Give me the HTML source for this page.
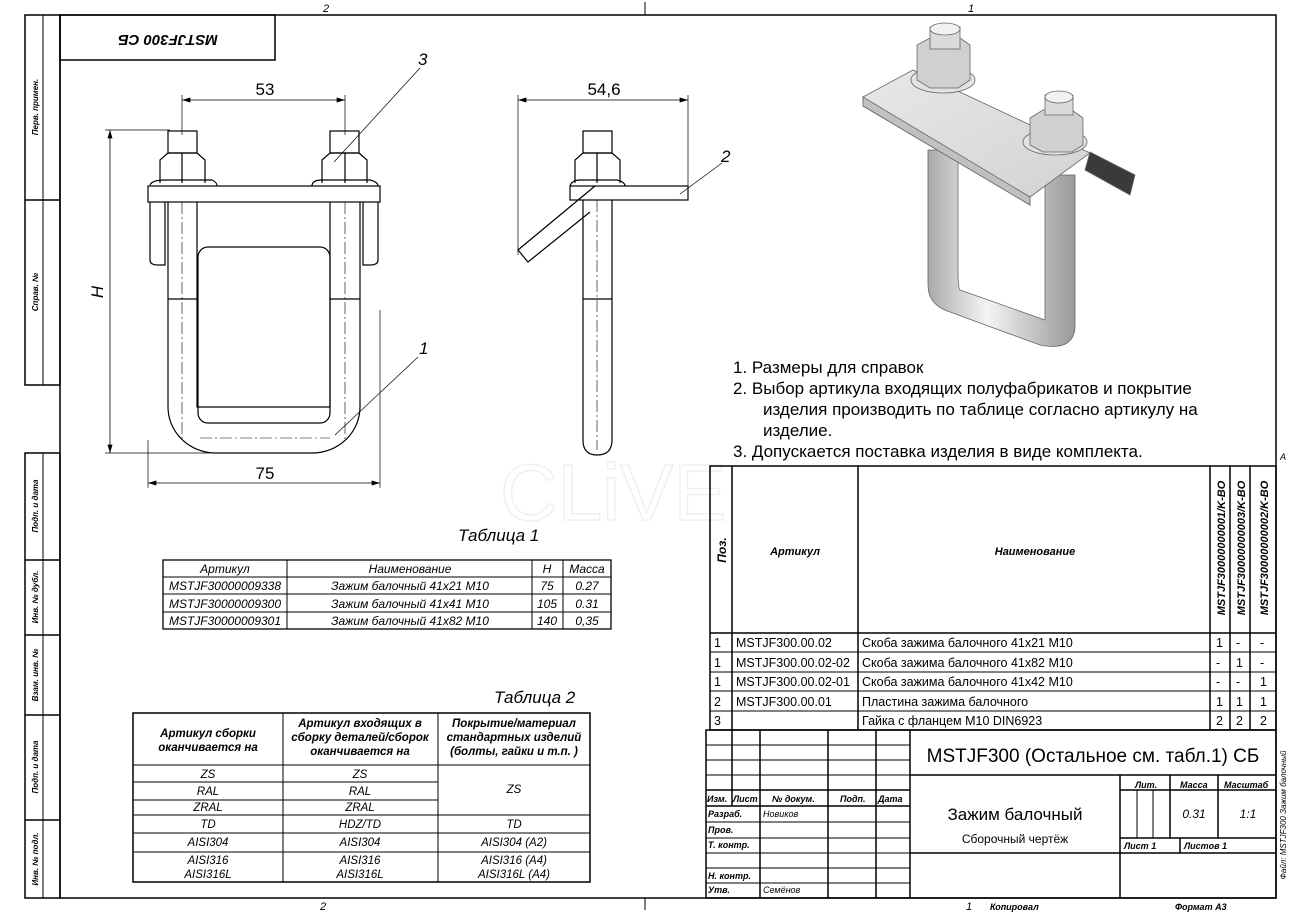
<!DOCTYPE html>
<html><head><meta charset="utf-8"><style>
html,body{margin:0;padding:0;background:#fff}
svg{display:block}
text{font-family:"Liberation Sans","DejaVu Sans",sans-serif;font-style:italic;fill:#000}
.b{font-weight:bold}
.n,.n text{font-style:normal}
</style></head><body>
<svg width="1291" height="912" viewBox="0 0 1291 912" xmlns="http://www.w3.org/2000/svg">
<defs>
<marker id="ar" viewBox="0 0 10 6" refX="10" refY="3" markerWidth="12" markerHeight="5" orient="auto-start-reverse" markerUnits="userSpaceOnUse"><path d="M0,0 L10,3 L0,6 z" fill="#000"/></marker>
<linearGradient id="rod" x1="0" x2="1"><stop offset="0" stop-color="#aaa"/><stop offset=".4" stop-color="#f4f4f4"/><stop offset="1" stop-color="#999"/></linearGradient>
<linearGradient id="pl" x1="0" y1="0" x2="1" y2="1"><stop offset="0" stop-color="#e8e8e8"/><stop offset="1" stop-color="#d2d2d2"/></linearGradient>
</defs>
<!-- watermark -->
<text x="500" y="520" font-size="80" class="n" style="fill:none;stroke:#f0f0f0;stroke-width:1.5">CLiVE</text>
<!-- frame -->
<g stroke="#000" fill="none">
<line x1="25" y1="15" x2="1276" y2="15" stroke-width="1"/>
<line x1="645" y1="2" x2="645" y2="15"/>
<line x1="645" y1="898" x2="645" y2="910"/>
<line x1="25" y1="898" x2="1276" y2="898"/>
<rect x="60" y="15" width="1216" height="883" stroke-width="1.5"/>
<rect x="25" y="15" width="35" height="370" stroke-width="1.5"/>
<line x1="25" y1="200" x2="60" y2="200" stroke-width="1.5"/>
<rect x="25" y="453" width="35" height="445" stroke-width="1.5"/>
<line x1="25" y1="560" x2="60" y2="560" stroke-width="1.5"/>
<line x1="25" y1="635" x2="60" y2="635" stroke-width="1.5"/>
<line x1="25" y1="715" x2="60" y2="715" stroke-width="1.5"/>
<line x1="25" y1="820" x2="60" y2="820" stroke-width="1.5"/>
<line x1="43" y1="15" x2="43" y2="385" stroke-width="1"/>
<line x1="43" y1="453" x2="43" y2="898" stroke-width="1"/>
<rect x="60" y="15" width="215" height="45" stroke-width="1.5"/>
</g>
<text x="323" y="12" font-size="11">2</text>
<text x="968" y="12" font-size="11">1</text>
<text x="320" y="910" font-size="11">2</text>
<text x="966" y="910" font-size="11">1</text>
<text x="1280" y="460" font-size="9">A</text>
<text transform="translate(168,30) rotate(180)" font-size="15" class="b" text-anchor="middle" dy="-5">MSTJF300 СБ</text>
<g font-size="8" class="b">
<text transform="translate(38,107) rotate(-90)" text-anchor="middle">Перв. примен.</text>
<text transform="translate(38,292) rotate(-90)" text-anchor="middle">Справ. №</text>
<text transform="translate(38,506) rotate(-90)" text-anchor="middle">Подп. и дата</text>
<text transform="translate(38,597) rotate(-90)" text-anchor="middle">Инв. № дубл.</text>
<text transform="translate(38,675) rotate(-90)" text-anchor="middle">Взам. инв. №</text>
<text transform="translate(38,767) rotate(-90)" text-anchor="middle">Подп. и дата</text>
<text transform="translate(38,859) rotate(-90)" text-anchor="middle">Инв. № подл.</text>
<text transform="translate(1286,815) rotate(-90)" text-anchor="middle" font-weight="normal">Файл: MSTJF300 Зажим балочный</text>
</g>
<text x="990" y="910" font-size="9" class="b">Копировал</text>
<text x="1175" y="910" font-size="9" class="b">Формат А3</text>

<!-- front view -->
<g stroke="#000" fill="none" stroke-width="1.2">
<line x1="182" y1="95" x2="182" y2="135" stroke-width=".7"/>
<line x1="345" y1="95" x2="345" y2="135" stroke-width=".7"/>
<line x1="182" y1="100" x2="345" y2="100" stroke-width=".8" marker-start="url(#ar)" marker-end="url(#ar)"/>
<line x1="148" y1="440" x2="148" y2="488" stroke-width=".7"/>
<line x1="380" y1="310" x2="380" y2="488" stroke-width=".7"/>
<line x1="148" y1="483" x2="380" y2="483" stroke-width=".8" marker-start="url(#ar)" marker-end="url(#ar)"/>
<line x1="105" y1="130" x2="170" y2="130" stroke-width=".7"/>
<line x1="105" y1="453" x2="210" y2="453" stroke-width=".7"/>
<line x1="110" y1="130" x2="110" y2="453" stroke-width=".8" marker-start="url(#ar)" marker-end="url(#ar)"/>
<rect x="168" y="131" width="29" height="22"/>
<rect x="330" y="131" width="29" height="22"/>
<path d="M160,183 L160,160 L168,153 L197,153 L205,160 L205,183"/>
<line x1="182" y1="153" x2="182" y2="183"/>
<path d="M322,183 L322,160 L330,153 L359,153 L367,160 L367,183"/>
<line x1="345" y1="153" x2="345" y2="183"/>
<path d="M150,185 Q152,180 165,180 L212,180 Q217,182 217,186"/>
<path d="M312,186 Q312,180 322,180 L370,180 Q378,182 378,186"/>
<rect x="148" y="186" width="232" height="16"/>
<path d="M150,202 L150,260 Q150,265 158,265 L165,265 L165,202"/>
<path d="M378,202 L378,260 Q378,265 370,265 L363,265 L363,202"/>
<rect x="198" y="247" width="132" height="176" rx="10"/>
<path d="M168,202 L168,407 A48,46 0 0 0 216,453 L312,453 A48,46 0 0 0 360,407 L360,202"/>
<path d="M197,202 L197,407 L330,407 L330,202"/>
<line x1="168" y1="299" x2="197" y2="299"/>
<line x1="330" y1="299" x2="360" y2="299"/>
<line x1="182" y1="202" x2="182" y2="440" stroke-width=".6" stroke-dasharray="12,3,2,3"/>
<line x1="345" y1="202" x2="345" y2="440" stroke-width=".6" stroke-dasharray="12,3,2,3"/>
<line x1="200" y1="438" x2="330" y2="438" stroke-width=".6" stroke-dasharray="12,3,2,3"/>
<line x1="334" y1="162" x2="420" y2="68" stroke-width=".7"/>
<line x1="335" y1="435" x2="418" y2="357" stroke-width=".7"/>
</g>
<text x="265" y="95" font-size="17" text-anchor="middle" class="n">53</text>
<text x="265" y="479" font-size="17" text-anchor="middle" class="n">75</text>
<text transform="translate(103,292) rotate(-90)" font-size="17" text-anchor="middle">H</text>
<text x="418" y="65" font-size="17">3</text>
<text x="419" y="354" font-size="17">1</text>

<!-- side view -->
<g stroke="#000" fill="none" stroke-width="1.2">
<line x1="518" y1="95" x2="518" y2="255" stroke-width=".7"/>
<line x1="688" y1="95" x2="688" y2="190" stroke-width=".7"/>
<line x1="518" y1="100" x2="688" y2="100" stroke-width=".8" marker-start="url(#ar)" marker-end="url(#ar)"/>
<rect x="583" y="131" width="29" height="22"/>
<path d="M575,183 L575,160 L583,153 L612,153 L620,160 L620,183"/>
<line x1="597" y1="153" x2="597" y2="183"/>
<path d="M570,186 Q572,180 580,180 L617,180 Q625,182 625,186"/>
<rect x="570" y="186" width="118" height="14"/>
<path d="M595,186 L518,250 L528,262 L590,212"/>
<path d="M583,200 L583,440 Q583,455 597,455 Q612,455 612,440 L612,200"/>
<line x1="583" y1="299" x2="612" y2="299"/>
<line x1="597" y1="200" x2="597" y2="450" stroke-width=".6" stroke-dasharray="12,3,2,3"/>
<line x1="680" y1="194" x2="722" y2="163" stroke-width=".7"/>
</g>
<text x="604" y="95" font-size="17" text-anchor="middle" class="n">54,6</text>
<text x="721" y="162" font-size="17">2</text>

<!-- 3D view -->
<g stroke="#666" stroke-width=".8">
<path d="M1090,152 L1135,175 L1130,195 L1085,170 Z" fill="#3a3a3a"/>
<path d="M928,150 L928,285 Q928,305 950,312 L1040,345 Q1075,352 1075,325 L1075,175 L1045,175 L1045,320 L960,290 Q958,288 958,270 L958,150 Z" fill="url(#rod)"/>
<path d="M863,97 L913,70 L1090,153 L1030,197 L1030,205 L863,106 Z" fill="url(#pl)"/>
<path d="M863,97 L1030,197 L1030,205 L863,106 Z" fill="#c0c0c0"/>
<ellipse cx="943" cy="80" rx="32" ry="13" fill="#e2e2e2"/>
<path d="M917,45 L930,38 L960,38 L970,45 L970,80 L958,88 L930,88 L917,80 Z" fill="#d0d0d0"/>
<rect x="930" y="27" width="30" height="22" fill="#dadada"/>
<ellipse cx="945" cy="29" rx="15" ry="6" fill="#f2f2f2"/>
<ellipse cx="1055" cy="142" rx="32" ry="13" fill="#e2e2e2"/>
<path d="M1030,118 L1043,110 L1072,110 L1083,118 L1083,145 L1072,152 L1043,152 L1030,145 Z" fill="#d0d0d0"/>
<rect x="1045" y="95" width="28" height="20" fill="#dadada"/>
<ellipse cx="1059" cy="97" rx="14" ry="6" fill="#f2f2f2"/>
</g>

<!-- notes -->
<g font-size="17" class="n">
<text x="733" y="373">1.  Размеры для справок</text>
<text x="733" y="394">2.  Выбор артикула входящих полуфабрикатов и покрытие</text>
<text x="763" y="415">изделия производить по таблице согласно артикулу на</text>
<text x="763" y="436">изделие.</text>
<text x="733" y="457">3.  Допускается поставка изделия в виде комплекта.</text>
</g>

<!-- spec table -->
<g stroke="#000" fill="none" stroke-width="1.5">
<rect x="710" y="466" width="566" height="264"/>
<line x1="732" y1="466" x2="732" y2="730"/>
<line x1="858" y1="466" x2="858" y2="730"/>
<line x1="1210" y1="466" x2="1210" y2="730"/>
<line x1="1230" y1="466" x2="1230" y2="730"/>
<line x1="1250" y1="466" x2="1250" y2="730"/>
<line x1="710" y1="633" x2="1276" y2="633"/>
<g stroke-width="1"><line x1="710" y1="652" x2="1276" y2="652"/><line x1="710" y1="672" x2="1276" y2="672"/><line x1="710" y1="691" x2="1276" y2="691"/><line x1="710" y1="711" x2="1276" y2="711"/></g>
</g>
<g font-size="12">
<text transform="translate(726,550) rotate(-90)" class="b" text-anchor="middle">Поз.</text>
<text x="795" y="555" class="b" text-anchor="middle" font-size="11">Артикул</text>
<text x="1035" y="555" class="b" text-anchor="middle" font-size="11">Наименование</text>
<text transform="translate(1225,548) rotate(-90)" class="b" text-anchor="middle" font-size="11">MSTJF30000000001/K-BO</text>
<text transform="translate(1245,548) rotate(-90)" class="b" text-anchor="middle" font-size="11">MSTJF30000000003/K-BO</text>
<text transform="translate(1268,548) rotate(-90)" class="b" text-anchor="middle" font-size="11">MSTJF30000000002/K-BO</text>
</g>
<g font-size="12.5" class="n">
<text x="714" y="647">1</text><text x="736" y="647">MSTJF300.00.02</text><text x="862" y="647">Скоба зажима балочного 41x21 M10</text><text x="1216" y="647">1</text><text x="1236" y="647">-</text><text x="1260" y="647">-</text>
<text x="714" y="667">1</text><text x="736" y="667">MSTJF300.00.02-02</text><text x="862" y="667">Скоба зажима балочного 41x82 M10</text><text x="1216" y="667">-</text><text x="1236" y="667">1</text><text x="1260" y="667">-</text>
<text x="714" y="686">1</text><text x="736" y="686">MSTJF300.00.02-01</text><text x="862" y="686">Скоба зажима балочного 41x42 M10</text><text x="1216" y="686">-</text><text x="1236" y="686">-</text><text x="1260" y="686">1</text>
<text x="714" y="706">2</text><text x="736" y="706">MSTJF300.00.01</text><text x="862" y="706">Пластина зажима балочного</text><text x="1216" y="706">1</text><text x="1236" y="706">1</text><text x="1260" y="706">1</text>
<text x="714" y="725">3</text><text x="862" y="725">Гайка с фланцем M10 DIN6923</text><text x="1216" y="725">2</text><text x="1236" y="725">2</text><text x="1260" y="725">2</text>
</g>

<!-- title block -->
<g stroke="#000" fill="none" stroke-width="1.5">
<rect x="706" y="730" width="570" height="168"/>
<line x1="910" y1="730" x2="910" y2="898"/>
<line x1="910" y1="775" x2="1276" y2="775"/>
<line x1="910" y1="853" x2="1276" y2="853"/>
<line x1="1120" y1="775" x2="1120" y2="898"/>
<line x1="1120" y1="790" x2="1276" y2="790"/>
<line x1="1120" y1="838" x2="1276" y2="838"/>
<line x1="1170" y1="775" x2="1170" y2="838"/>
<line x1="1218" y1="775" x2="1218" y2="838"/>
<line x1="1180" y1="838" x2="1180" y2="853"/>
<line x1="1137" y1="790" x2="1137" y2="838" stroke-width="1"/>
<line x1="1153" y1="790" x2="1153" y2="838" stroke-width="1"/>
<line x1="732" y1="730" x2="732" y2="806"/>
<line x1="760" y1="730" x2="760" y2="898"/>
<line x1="828" y1="730" x2="828" y2="898"/>
<line x1="876" y1="730" x2="876" y2="898"/>
<line x1="706" y1="790" x2="910" y2="790"/>
<line x1="706" y1="806" x2="910" y2="806"/>
<g stroke-width="1">
<line x1="706" y1="745" x2="910" y2="745"/><line x1="706" y1="760" x2="910" y2="760"/><line x1="706" y1="775" x2="910" y2="775"/>
<line x1="706" y1="822" x2="910" y2="822"/><line x1="706" y1="838" x2="910" y2="838"/><line x1="706" y1="853" x2="910" y2="853"/><line x1="706" y1="868" x2="910" y2="868"/><line x1="706" y1="883" x2="910" y2="883"/>
</g>
</g>
<g font-size="9" class="b">
<text x="707" y="802">Изм.</text><text x="733" y="802">Лист</text><text x="772" y="802">№ докум.</text><text x="840" y="802">Подп.</text><text x="878" y="802">Дата</text>
<text x="708" y="817">Разраб.</text><text x="708" y="833">Пров.</text><text x="708" y="848">Т. контр.</text><text x="708" y="879">Н. контр.</text><text x="708" y="893">Утв.</text>
<text x="1135" y="788">Лит.</text><text x="1180" y="788">Масса</text><text x="1224" y="788">Масштаб</text>
<text x="1124" y="849">Лист 1</text><text x="1184" y="849">Листов 1</text>
</g>
<g font-size="9"><text x="763" y="817">Новиков</text><text x="763" y="893">Семёнов</text></g>
<text x="1093" y="762" font-size="19" text-anchor="middle" class="n">MSTJF300 (Остальное см. табл.1) СБ</text>
<text x="1015" y="820" font-size="17" text-anchor="middle" class="n">Зажим балочный</text>
<text x="1015" y="843" font-size="12" text-anchor="middle" class="n">Сборочный чертёж</text>
<text x="1194" y="818" font-size="12" text-anchor="middle">0.31</text>
<text x="1248" y="818" font-size="12" text-anchor="middle">1:1</text>

<!-- table 1 -->
<text x="458" y="541" font-size="17">Таблица 1</text>
<g stroke="#000" fill="none" stroke-width="1.3">
<rect x="163" y="560" width="448" height="69"/>
<line x1="163" y1="577" x2="611" y2="577" stroke-width="1"/><line x1="163" y1="594" x2="611" y2="594" stroke-width="1"/><line x1="163" y1="612" x2="611" y2="612" stroke-width="1"/>
<line x1="287" y1="560" x2="287" y2="629" stroke-width="1"/><line x1="532" y1="560" x2="532" y2="629" stroke-width="1"/><line x1="563" y1="560" x2="563" y2="629" stroke-width="1"/>
</g>
<g font-size="12">
<text x="225" y="573" text-anchor="middle">Артикул</text><text x="410" y="573" text-anchor="middle">Наименование</text><text x="547" y="573" text-anchor="middle">H</text><text x="587" y="573" text-anchor="middle">Масса</text>
<text x="225" y="590" text-anchor="middle">MSTJF30000009338</text><text x="410" y="590" text-anchor="middle">Зажим балочный 41x21 M10</text><text x="547" y="590" text-anchor="middle">75</text><text x="587" y="590" text-anchor="middle">0.27</text>
<text x="225" y="608" text-anchor="middle">MSTJF30000009300</text><text x="410" y="608" text-anchor="middle">Зажим балочный 41x41 M10</text><text x="547" y="608" text-anchor="middle">105</text><text x="587" y="608" text-anchor="middle">0.31</text>
<text x="225" y="625" text-anchor="middle">MSTJF30000009301</text><text x="410" y="625" text-anchor="middle">Зажим балочный 41x82 M10</text><text x="547" y="625" text-anchor="middle">140</text><text x="587" y="625" text-anchor="middle">0,35</text>
</g>

<!-- table 2 -->
<text x="494" y="703" font-size="17">Таблица 2</text>
<g stroke="#000" fill="none" stroke-width="1.5">
<rect x="133" y="713" width="457" height="169"/>
<line x1="283" y1="713" x2="283" y2="882" stroke-width="1"/><line x1="438" y1="713" x2="438" y2="882" stroke-width="1"/>
<line x1="133" y1="765" x2="590" y2="765" stroke-width="1"/>
<line x1="133" y1="782" x2="438" y2="782" stroke-width="1"/><line x1="133" y1="800" x2="438" y2="800" stroke-width="1"/>
<line x1="133" y1="815" x2="590" y2="815" stroke-width="1"/><line x1="133" y1="833" x2="590" y2="833" stroke-width="1"/><line x1="133" y1="852" x2="590" y2="852" stroke-width="1"/>
</g>
<g font-size="11.5" class="b" text-anchor="middle">
<text x="208" y="737">Артикул сборки</text><text x="208" y="751">оканчивается на</text>
<text x="360" y="727">Артикул входящих в</text><text x="360" y="741">сборку деталей/сборок</text><text x="360" y="755">оканчивается на</text>
<text x="514" y="727">Покрытие/материал</text><text x="514" y="741">стандартных изделий</text><text x="514" y="755">(болты, гайки и т.п. )</text>
</g>
<g font-size="11.5" text-anchor="middle">
<text x="208" y="778">ZS</text><text x="360" y="778">ZS</text>
<text x="208" y="795">RAL</text><text x="360" y="795">RAL</text><text x="514" y="793">ZS</text>
<text x="208" y="811">ZRAL</text><text x="360" y="811">ZRAL</text>
<text x="208" y="828">TD</text><text x="360" y="828">HDZ/TD</text><text x="514" y="828">TD</text>
<text x="208" y="846">AISI304</text><text x="360" y="846">AISI304</text><text x="514" y="846">AISI304 (A2)</text>
<text x="208" y="864">AISI316</text><text x="360" y="864">AISI316</text><text x="514" y="864">AISI316 (A4)</text>
<text x="208" y="878">AISI316L</text><text x="360" y="878">AISI316L</text><text x="514" y="878">AISI316L (A4)</text>
</g>
</svg>
</body></html>
